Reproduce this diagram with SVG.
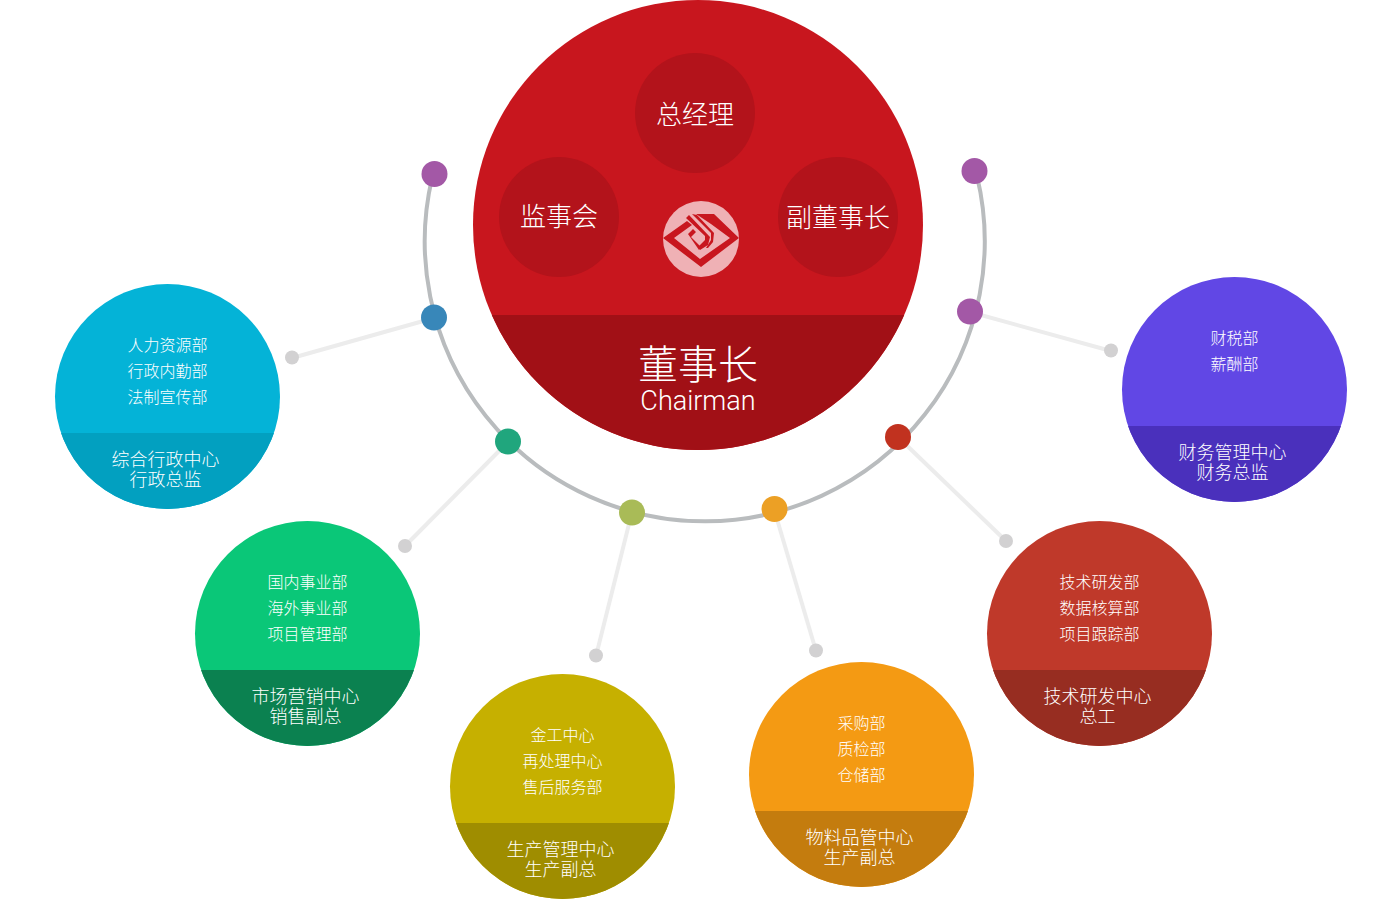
<svg xmlns="http://www.w3.org/2000/svg" width="1400" height="901" viewBox="0 0 1400 901">
<style>
text{font-family:"Noto Sans CJK SC","Liberation Sans",sans-serif;fill:#fff;text-anchor:middle}
.d{font-size:16px;font-weight:300}
.b{font-size:18px;font-weight:300}
.s{font-size:26px;font-weight:300}
.arc{fill:none;stroke:#b9bcbe;stroke-width:4}
.l{stroke:#ececec;stroke-width:4;fill:none}
.e{fill:#d2d1d2}
</style>
<defs>
<clipPath id="c0"><rect x="0" y="315" width="1400" height="586"/></clipPath>
<clipPath id="c1"><rect x="0" y="433" width="400" height="100"/></clipPath>
<clipPath id="c2"><rect x="150" y="670" width="300" height="100"/></clipPath>
<clipPath id="c3"><rect x="420" y="823" width="300" height="78"/></clipPath>
<clipPath id="c4"><rect x="720" y="811" width="300" height="90"/></clipPath>
<clipPath id="c5"><rect x="960" y="670" width="300" height="100"/></clipPath>
<clipPath id="c6"><rect x="1100" y="426" width="300" height="100"/></clipPath>
</defs>
<g id="connectors">
<path class="arc" d="M432 178A280 280 0 1 0 977 176"/>
<path class="l" d="M434 318L292 358"/>
<path class="l" d="M508 442L405 546"/>
<path class="l" d="M632 512L596 656"/>
<path class="l" d="M774 509L816 651"/>
<path class="l" d="M898 437L1006 541"/>
<path class="l" d="M970 312L1111 351"/>
</g>
<g id="dots">
<circle cx="434.500" cy="174" r="13" fill="#a358a6"/>
<circle cx="974.500" cy="171" r="13" fill="#a358a6"/>
<circle cx="434" cy="317.500" r="13" fill="#3887b9"/>
<circle cx="970" cy="311.500" r="13" fill="#a358a6"/>
<circle cx="508" cy="441.500" r="13" fill="#20a67d"/>
<circle cx="898" cy="437" r="13" fill="#c1321f"/>
<circle cx="632" cy="512.500" r="13" fill="#a9bb57"/>
<circle cx="774.500" cy="509" r="13" fill="#eca025"/>
<circle class="e" cx="292" cy="357.500" r="7"/>
<circle class="e" cx="405" cy="546" r="7"/>
<circle class="e" cx="596" cy="655.500" r="7"/>
<circle class="e" cx="816" cy="650.500" r="7"/>
<circle class="e" cx="1006" cy="541" r="7"/>
<circle class="e" cx="1111" cy="350.500" r="7"/>
</g>
<g id="chairman">
<circle cx="698" cy="225" r="225" fill="#c8161e"/>
<circle cx="698" cy="225" r="225" fill="#a11016" clip-path="url(#c0)"/>
<circle cx="695" cy="113" r="60" fill="#b3131b"/>
<circle cx="559" cy="217" r="60" fill="#b3131b"/>
<circle cx="838" cy="217" r="60" fill="#b3131b"/>
<circle cx="701" cy="239" r="38" fill="#efb1b5"/>
<g fill="#c8161e">
<path d="M663 238L687 221L692 225L674 238L700 259L730 238L711 224L696 214L708 214L714 214L739 238L701 267Z"/>
<path d="M686 218L689 215L710 237L708 245L700 250L698 247L705 240L705 236Z"/>
<path d="M692 214L697 215L714 233L713 242L708 248L706 248L711 240L711 233Z"/>
<path d="M688 234L693 229L696 232L691 237L701 247L699 250Z"/>
</g>
<text class="s" x="695" y="124">总经理</text>
<text class="s" x="559" y="226">监事会</text>
<text class="s" x="838" y="227">副董事长</text>
<text font-weight="300"><tspan x="698" y="379" font-size="40">董事长</tspan><tspan x="698" y="410" font-size="27" style="font-family:Roboto,'Liberation Sans',sans-serif;font-weight:300">Chairman</tspan></text>
</g>
<g id="admin">
<circle cx="167.500" cy="396.500" r="112.500" fill="#04b3d7"/>
<circle cx="167.500" cy="396.500" r="112.500" fill="#02a0c0" clip-path="url(#c1)"/>
<text class="d" x="167.500" y="351">人力资源部</text>
<text class="d" x="167.500" y="377">行政内勤部</text>
<text class="d" x="167.500" y="403">法制宣传部</text>
<text class="b"><tspan x="165.500" y="466">综合行政中心</tspan><tspan x="165.500" y="486">行政总监</tspan></text>
</g>
<g id="market">
<circle cx="307.500" cy="633.500" r="112.500" fill="#0ac778"/>
<circle cx="307.500" cy="633.500" r="112.500" fill="#0b8150" clip-path="url(#c2)"/>
<text class="d" x="307.500" y="588">国内事业部</text>
<text class="d" x="307.500" y="614">海外事业部</text>
<text class="d" x="307.500" y="640">项目管理部</text>
<text class="b"><tspan x="305.500" y="703">市场营销中心</tspan><tspan x="305.500" y="723">销售副总</tspan></text>
</g>
<g id="production">
<circle cx="562.500" cy="786.500" r="112.500" fill="#c6b000"/>
<circle cx="562.500" cy="786.500" r="112.500" fill="#9f8d00" clip-path="url(#c3)"/>
<text class="d" x="562.500" y="741">金工中心</text>
<text class="d" x="562.500" y="767">再处理中心</text>
<text class="d" x="562.500" y="793">售后服务部</text>
<text class="b"><tspan x="560.500" y="856">生产管理中心</tspan><tspan x="560.500" y="876">生产副总</tspan></text>
</g>
<g id="materials">
<circle cx="861.500" cy="774.500" r="112.500" fill="#f49a13"/>
<circle cx="861.500" cy="774.500" r="112.500" fill="#c47c0e" clip-path="url(#c4)"/>
<text class="d" x="861.500" y="729">采购部</text>
<text class="d" x="861.500" y="755">质检部</text>
<text class="d" x="861.500" y="781">仓储部</text>
<text class="b"><tspan x="859.500" y="844">物料品管中心</tspan><tspan x="859.500" y="864">生产副总</tspan></text>
</g>
<g id="tech">
<circle cx="1099.500" cy="633.500" r="112.500" fill="#bf392a"/>
<circle cx="1099.500" cy="633.500" r="112.500" fill="#972d21" clip-path="url(#c5)"/>
<text class="d" x="1099.500" y="588">技术研发部</text>
<text class="d" x="1099.500" y="614">数据核算部</text>
<text class="d" x="1099.500" y="640">项目跟踪部</text>
<text class="b"><tspan x="1097.500" y="703">技术研发中心</tspan><tspan x="1097.500" y="723">总工</tspan></text>
</g>
<g id="finance">
<circle cx="1234.500" cy="389.500" r="112.500" fill="#6147e5"/>
<circle cx="1234.500" cy="389.500" r="112.500" fill="#4a30bc" clip-path="url(#c6)"/>
<text class="d" x="1234.500" y="344">财税部</text>
<text class="d" x="1234.500" y="370">薪酬部</text>
<text class="b"><tspan x="1232.500" y="459">财务管理中心</tspan><tspan x="1232.500" y="479">财务总监</tspan></text>
</g>
</svg>
